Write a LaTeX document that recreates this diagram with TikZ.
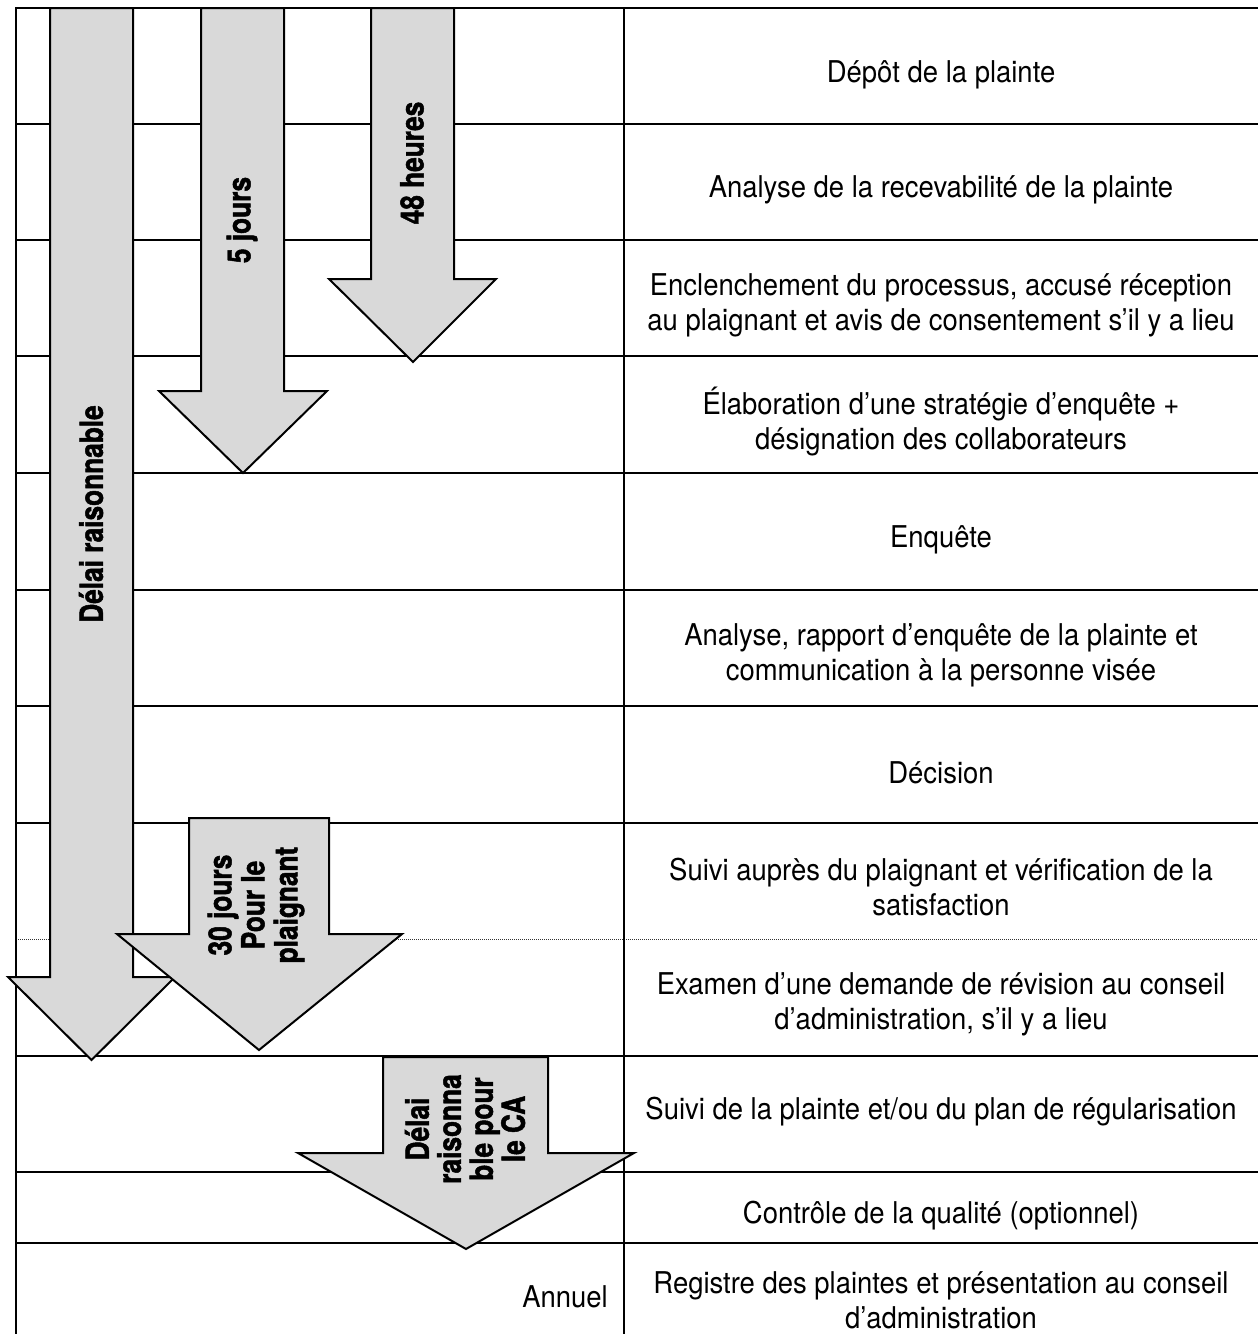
\documentclass[tikz,border=0pt]{standalone}
\usepackage{fontspec}
\setmainfont{TeX Gyre Heros}[FakeStretch=0.915]
\newfontfamily\arrowfont{TeX Gyre Heros}[FakeStretch=0.82,BoldFeatures={FakeBold=1.5}]
\definecolor{arrowgray}{RGB}{217,217,217}
\definecolor{dotgray}{RGB}{50,50,50}
\begin{document}
\begin{tikzpicture}[x=1pt,y=-1pt,
  gridline/.style={line width=2pt,black},
  dotline/.style={line width=1pt,dotgray,dash pattern=on 1pt off 1pt},
  blockarrow/.style={fill=arrowgray,draw=black,line width=2pt,line join=miter},
  steptext/.style={inner sep=0pt,align=center,font=\fontsize{30}{35}\selectfont},
  arrowtext/.style={inner sep=0pt,align=center,rotate=90,font=\arrowfont\bfseries\fontsize{32}{33}\selectfont}]
\useasboundingbox (0,0) rectangle (1258,1334);
% table lines
\foreach \y in {8,124,240,356,473,590,706,823,1056,1172,1243}
  \draw[gridline] (15,\y) -- (1258,\y);
\draw[dotline] (16,939) -- (1258,939);
\draw[gridline] (16,7) -- (16,1334);
\draw[gridline] (624,7) -- (624,1334);
% arrows
\path[blockarrow] (50,8) -- (133,8) -- (133,977) -- (175,977) -- (91.5,1060) -- (8,977) -- (50,977) -- cycle;
\path[blockarrow] (201,8) -- (284,8) -- (284,391) -- (327,391) -- (243,473) -- (159,391) -- (201,391) -- cycle;
\path[blockarrow] (371,8) -- (454,8) -- (454,279) -- (496,279) -- (413,362) -- (329,279) -- (371,279) -- cycle;
\path[blockarrow] (189,818) -- (329,818) -- (329,934) -- (402,934) -- (259,1050) -- (117,934) -- (189,934) -- cycle;
\path[blockarrow] (383,1057) -- (548,1057) -- (548,1153) -- (634,1153) -- (466,1249) -- (298,1153) -- (383,1153) -- cycle;
% arrow labels
\node[arrowtext] (a1) at (91,514) {Délai raisonnable};
\node[arrowtext] (a2) at (242,220) {5 jours};
\node[arrowtext] (a3) at (412,163) {48 heures};
\node[arrowtext] (a4) at (256,905) {30 jours\\Pour le\\plaignant};
\node[arrowtext,font=\arrowfont\bfseries\fontsize{32}{32}\selectfont] (a5) at (465,1129) {Délai\\raisonna\\ble pour\\le CA};
\node[steptext,anchor=east] (ann) at (608,1297) {Annuel};
% step texts
\node[steptext] (t1) at (941,75) {Dépôt de la plainte};
\node[steptext] (t2) at (941,190) {Analyse de la recevabilité de la plainte};
\node[steptext] (t3) at (941,305) {Enclenchement du processus, accusé réception\\au plaignant et avis de consentement s’il y a lieu};
\node[steptext] (t4) at (941,422) {Élaboration d’une stratégie d’enquête +\\désignation des collaborateurs};
\node[steptext] (t5) at (941,540) {Enquête};
\node[steptext] (t6) at (941,655) {Analyse, rapport d’enquête de la plainte et\\communication à la personne visée};
\node[steptext] (t7) at (941,773) {Décision};
\node[steptext] (t8) at (941,887) {Suivi auprès du plaignant et vérification de la\\satisfaction};
\node[steptext] (t9) at (941,1004) {Examen d’une demande de révision au conseil\\d’administration, s’il y a lieu};
\node[steptext] (t10) at (941,1112) {Suivi de la plainte et/ou du plan de régularisation};
\node[steptext] (t11) at (941,1216) {Contrôle de la qualité (optionnel)};
\node[steptext] (t12) at (941,1300) {Registre des plaintes et présentation au conseil\\d’administration};
\end{tikzpicture}
\end{document}
